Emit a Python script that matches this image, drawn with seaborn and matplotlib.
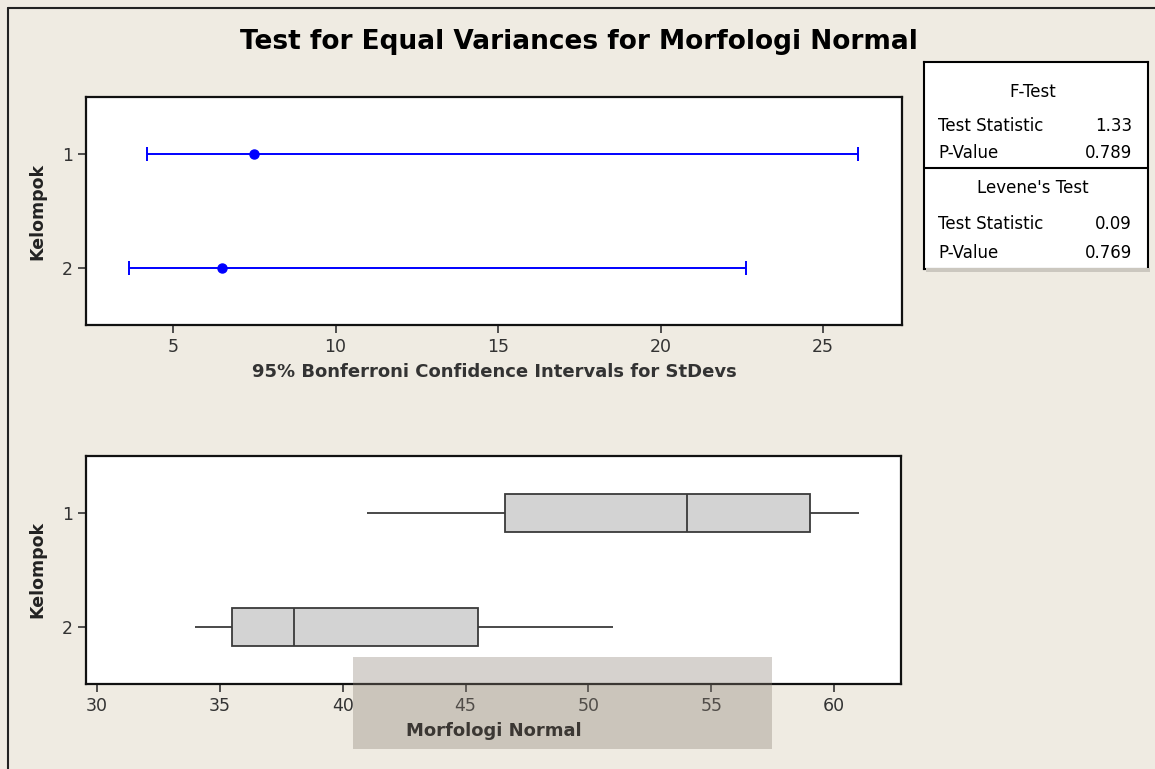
import pandas as pd
import seaborn as sns
import matplotlib.pyplot as plt
from matplotlib.patches import Rectangle
from matplotlib.lines import Line2D

groups = ['1', '2']
sd_est = [7.49, 6.51]
ci_low = [4.2, 3.65]
ci_high = [26.08, 22.63]

# five-number summaries of Morfologi Normal per Kelompok
kel1 = [41, 46.6, 54, 59, 61]
kel2 = [34, 35.5, 38, 45.5, 51]

f_rows = [('Test Statistic', '1.33'), ('P-Value', '0.789')]
lev_rows = [('Test Statistic', '0.09'), ('P-Value', '0.769')]

bg = '#EFEBE2'
txt = '#333333'

sns.set_style('white')
plt.rcParams['font.family'] = ['DejaVu Sans']

fig = plt.figure(figsize=(11.55, 7.69), dpi=100, facecolor=bg)
W, H = 1155, 769


def fax(x0, y0, x1, y1):
    return fig.add_axes([x0 / W, 1 - y1 / H, (x1 - x0) / W, (y1 - y0) / H])


# top panel: confidence intervals for the standard deviations
ax1 = fax(86, 97, 902, 325)
ypos = [1, 2]
err = [[s - lo for s, lo in zip(sd_est, ci_low)], [hi - s for s, hi in zip(sd_est, ci_high)]]
ax1.errorbar(sd_est, ypos, xerr=err, fmt='o', color='#0000ff', ms=6.5,
             elinewidth=1.4, capsize=4.7, capthick=1.4)
ax1.set_xlim(2.32, 27.43)
ax1.set_ylim(2.5, 0.5)
ax1.set_yticks(ypos)
ax1.set_yticklabels(groups)
ax1.set_xticks([5, 10, 15, 20, 25])
ax1.set_xlabel('95% Bonferroni Confidence Intervals for StDevs', fontsize=13,
               fontweight='bold', color=txt, labelpad=5)
ax1.set_ylabel('Kelompok', fontsize=12.5, fontweight='bold', color='#222222', labelpad=11)

# bottom panel: boxplots
df = pd.DataFrame({'Kelompok': ['1'] * len(kel1) + ['2'] * len(kel2),
                   'Morfologi Normal': kel1 + kel2})
ax2 = fax(86, 456, 901, 684)
sns.boxplot(data=df, x='Morfologi Normal', y='Kelompok', order=groups, orient='h',
            color='#D3D3D3', saturation=1, width=0.34, showcaps=False,
            linecolor='#3a3a3a', linewidth=1.3, ax=ax2)
ax2.set_xlim(29.55, 62.72)
ax2.set_ylim(1.5, -0.5)
ax2.set_xticks([30, 35, 40, 45, 50, 55, 60])
ax2.set_xlabel('Morfologi Normal', fontsize=13, fontweight='bold', color='#111111', labelpad=5)
ax2.set_ylabel('Kelompok', fontsize=12.5, fontweight='bold', color='#222222', labelpad=11)

for ax in (ax1, ax2):
    ax.set_facecolor('white')
    for s in ax.spines.values():
        s.set_color('#111111')
        s.set_linewidth(1.6)
    ax.tick_params(axis='both', direction='out', length=6, width=1.2, color='#333333',
                   labelsize=12.5, labelcolor=txt, bottom=True, left=True)

fig.suptitle('Test for Equal Variances for Morfologi Normal', x=0.501, y=1 - 42 / H,
             va='center', fontsize=19, fontweight='bold', color='black')

# statistics table on the right, with its small drop shadow
fig.add_artist(Rectangle((926 / W, 1 - 272 / H), 224 / W, 4 / H, transform=fig.transFigure,
                         facecolor='#cbc7bf', edgecolor='none', zorder=0.5))
ax3 = fax(924, 62, 1148, 269)
ax3.set_xlim(0, 224)
ax3.set_ylim(207, 0)
ax3.set_xticks([])
ax3.set_yticks([])
ax3.set_facecolor('white')
for s in ax3.spines.values():
    s.set_color('black')
    s.set_linewidth(1.5)
ax3.axhline(106, color='black', lw=1.5)
ax3.text(109, 30, 'F-Test', ha='center', va='center', fontsize=12, color='black')
ax3.text(109, 126, "Levene's Test", ha='center', va='center', fontsize=12, color='black')
for i, (lab, val) in enumerate(f_rows):
    ax3.text(14, 64 + 27 * i, lab, ha='left', va='center', fontsize=12, color='black')
    ax3.text(208, 64 + 27 * i, val, ha='right', va='center', fontsize=12, color='black')
for i, (lab, val) in enumerate(lev_rows):
    ax3.text(14, 162 + 29 * i, lab, ha='left', va='center', fontsize=12, color='black')
    ax3.text(208, 162 + 29 * i, val, ha='right', va='center', fontsize=12, color='black')

# outer frame and the grey stamp of the scanned page
fig.add_artist(Line2D([8 / W, 1], [1 - 8 / H] * 2, color='#222222', lw=1.5))
fig.add_artist(Line2D([8 / W] * 2, [0, 1 - 8 / H], color='#222222', lw=1.5))
fig.add_artist(Rectangle((353 / W, 1 - 749 / H), 419 / W, 92 / H, transform=fig.transFigure,
                         facecolor='#8a8074', alpha=0.35, edgecolor='none', zorder=5))

plt.savefig('out.png', dpi=100, facecolor=bg)
